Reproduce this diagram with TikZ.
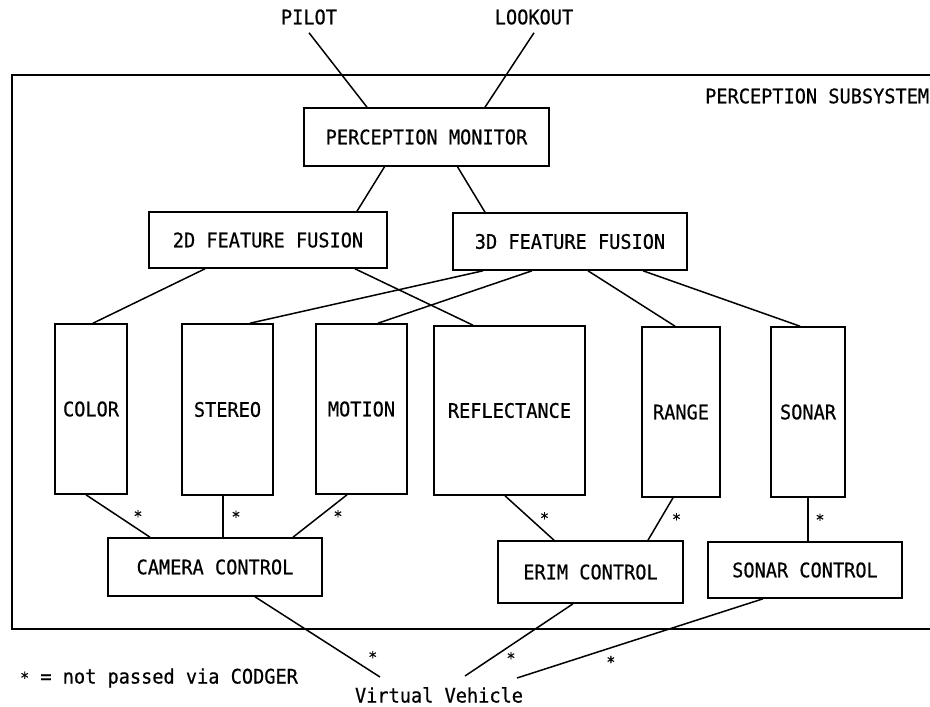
\documentclass[tikz,border=0pt]{standalone}
\usepackage{fontspec}
\newfontfamily\diagfont[FakeStretch=0.93,FakeBold=0.6]{DejaVu Sans Mono}
\begin{document}
\begin{tikzpicture}[x=1pt,y=-1pt,line cap=butt,line join=miter]
	\tikzset{box/.style={draw,line width=1.6pt,inner sep=0pt,font=\diagfont\fontsize{20}{20}\selectfont},
		txt/.style={inner sep=0pt,font=\diagfont\fontsize{20}{20}\selectfont},
		star/.style={inner sep=0pt,font=\diagfont\fontsize{16}{16}\selectfont},
		conn/.style={line width=1.5pt}
	}
	\useasboundingbox (0,0) rectangle (930,707);
	\draw[line width=1.6pt] (945,75) -- (12,75) -- (12,629) -- (945,629);
	\node[txt,anchor=west] (subsys) at (705,96) {PERCEPTION SUBSYSTEM};
	\node[txt] (pilot) at (309,17) {PILOT};
	\node[txt] (lookout) at (534,17) {LOOKOUT};
	\node[box,minimum width=245pt,minimum height=58pt] (pm) at (426.5,137) {PERCEPTION MONITOR};
	\node[box,minimum width=238pt,minimum height=56pt] (fus2d) at (268,240) {2D FEATURE FUSION};
	\node[box,minimum width=234pt,minimum height=57pt] (fus3d) at (570,241.5) {3D FEATURE FUSION};
	\node[box,minimum width=72pt,minimum height=170pt] (color) at (91,409) {COLOR};
	\node[box,minimum width=91pt,minimum height=171pt] (stereo) at (227.5,409.5) {STEREO};
	\node[box,minimum width=91pt,minimum height=170pt] (motion) at (361.5,409) {MOTION};
	\node[box,minimum width=151pt,minimum height=169pt] (refl) at (509.5,410.5) {REFLECTANCE};
	\node[box,minimum width=78pt,minimum height=170pt] (range) at (681,412) {RANGE};
	\node[box,minimum width=74pt,minimum height=170pt] (sonar) at (808,412) {SONAR};
	\node[box,minimum width=214pt,minimum height=58pt] (camctl) at (215,567) {CAMERA CONTROL};
	\node[box,minimum width=185pt,minimum height=62pt] (erimctl) at (590.5,572) {ERIM CONTROL};
	\node[box,minimum width=194pt,minimum height=56pt] (sonctl) at (805,570) {SONAR CONTROL};
	\node[txt] (vv) at (439,695) {Virtual Vehicle};
	\node[txt,anchor=west] (legend) at (20,678) {{\fontsize{16}{16}\selectfont*} = not passed via CODGER};
	\coordinate (vv1) at (380,677); \coordinate (vv2) at (465,676); \coordinate (vv3) at (517,678);
	\draw[conn] ([yshift=-8pt]pilot.south) -- ([xshift=-59.5pt]pm.north);
	\draw[conn] ([yshift=-8pt]lookout.south) -- ([xshift=58.5pt]pm.north);
	\draw[conn] ([xshift=-42pt]pm.south) -- ([xshift=89pt]fus2d.north);
	\draw[conn] ([xshift=31pt]pm.south) -- ([xshift=-85pt]fus3d.north);
	\draw[conn] ([xshift=-63pt]fus2d.south) -- ([xshift=2pt]color.north);
	\draw[conn] ([xshift=87pt]fus2d.south) -- ([xshift=-36.5pt]refl.north);
	\draw[conn] ([xshift=-87pt]fus3d.south) -- ([xshift=22.5pt]stereo.north);
	\draw[conn] ([xshift=-38pt]fus3d.south) -- ([xshift=16.5pt]motion.north);
	\draw[conn] ([xshift=18pt]fus3d.south) -- ([xshift=-6pt]range.north);
	\draw[conn] ([xshift=73pt]fus3d.south) -- ([xshift=-8pt]sonar.north);
	\draw[conn] ([xshift=-5pt]color.south) -- ([xshift=-65pt]camctl.north) node[star,pos=.5,xshift=20pt]{*};
	\draw[conn] ([xshift=-4.5pt]stereo.south) -- ([xshift=8pt]camctl.north) node[star,pos=.5,xshift=13pt]{*};
	\draw[conn] ([xshift=-14.5pt]motion.south) -- ([xshift=78pt]camctl.north) node[star,pos=.5,xshift=18pt]{*};
	\draw[conn] ([xshift=-4.5pt]refl.south) -- ([xshift=-36.5pt]erimctl.north) node[star,pos=.5,xshift=15pt]{*};
	\draw[conn] ([xshift=-8pt]range.south) -- ([xshift=57.5pt]erimctl.north) node[star,pos=.5,xshift=16pt]{*};
	\draw[conn] (sonar.south) -- ([xshift=3pt]sonctl.north) node[star,pos=.5,xshift=12pt]{*};
	\draw[conn] ([xshift=40pt]camctl.south) -- (vv1) node[star,pos=.75,xshift=24pt]{*};
	\draw[conn] ([xshift=-17.5pt]erimctl.south) -- (vv2) node[star,pos=.75,xshift=19pt]{*};
	\draw[conn] ([xshift=-42pt]sonctl.south) -- (vv3) node[star,pos=.72,xshift=25pt,yshift=-6pt]{*};
\end{tikzpicture}
\end{document}
